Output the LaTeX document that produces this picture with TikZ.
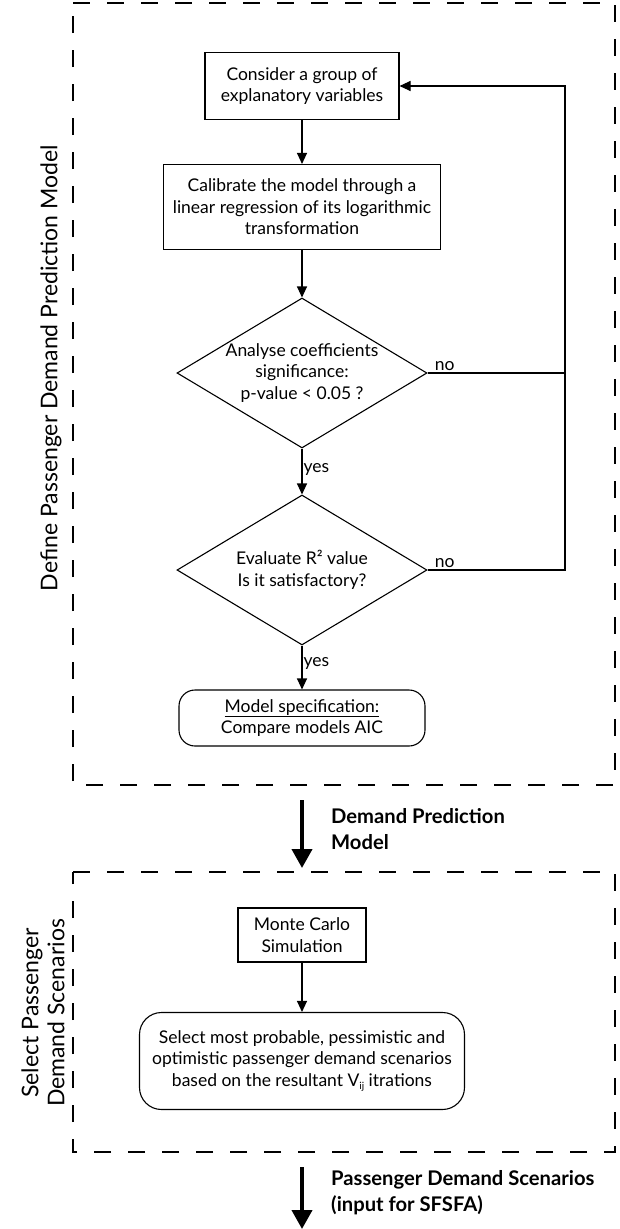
\documentclass[tikz,border=0pt]{standalone}
\usepackage{fontspec}
\setmainfont{Lato}
\usetikzlibrary{shapes.geometric,arrows.meta,calc}
\newcommand{\boxfont}{\fontsize{17.5}{21.5}\selectfont}
\newcommand{\sidefont}{\fontsize{23}{26}\selectfont}
\newcommand{\flowfont}{\fontsize{20.2}{26}\selectfont\bfseries}
\begin{document}
\begin{tikzpicture}[x=1pt,y=-1pt,
  frame/.style={draw, line width=1.2pt, dash pattern=on 17pt off 17pt},
  proc/.style={draw, line width=1.1pt, font=\boxfont, align=center, inner sep=0pt},
  term/.style={proc, rounded corners=16pt},
  dec/.style={draw, line width=1.1pt, shape=diamond, inner sep=0pt,
              minimum width=250pt, minimum height=150pt,
              label={[font=\boxfont, align=center, inner sep=0pt]center:#1}},
  arr/.style={line width=1.1pt, -{Triangle[length=11pt,width=10pt]}},
  lin/.style={line width=1.1pt},
  big/.style={line width=4pt, -{Triangle[length=19pt,width=20pt]}},
  lbl/.style={font=\boxfont, inner sep=1pt},
  side/.style={font=\sidefont, rotate=90, align=center, inner sep=0pt},
  flow/.style={font=\flowfont, align=left, anchor=west, inner sep=0pt}
]
\useasboundingbox (0,0) rectangle (620,1229);
% frames
\draw[frame] (73,3) -- (615,3) -- (615,785) -- (73,785) -- cycle;
\draw[frame] (73,872) -- (615,872) -- (615,1152) -- (73,1152) -- cycle;
% side labels
\node[side] (s1) at (51,368) {Define Passenger Demand Prediction Model};
\node[side] (s2) at (43,1013) {Select Passenger\\Demand Scenarios};
% stage 1
\node[proc, minimum width=194pt, minimum height=67pt] (b1) at (302,86) {Consider a group of\\explanatory variables};
\node[proc, minimum width=277pt, minimum height=85pt] (b2) at (302,207) {Calibrate the model through a\\linear regression of its logarithmic\\transformation};
\node[dec={Analyse coefficients\\significance:\\p-value < 0.05 ?}] (d1) at (302,373) {};
\node[dec={Evaluate R² value\\Is it satisfactory?}] (d2) at (302,570) {};
\node[term, minimum width=246pt, minimum height=56pt] (m) at (302,718) {\underline{Model specification:}\\Compare models AIC};
\coordinate (c2) at (565,570);
\draw[arr] (b1.south) -- (b2.north);
\draw[arr] (b2.south) -- (d1.north);
\draw[arr] (d1.south) -- node[lbl, right, pos=0.45]{yes} (d2.north);
\draw[arr] (d2.south) -- node[lbl, right, pos=0.4]{yes} (m.north);
\draw[arr] (d2.east) -- (c2) |- (b1.east);
\draw[lin] (d1.east) -- (d1.east -| c2);
\node[lbl, anchor=south west] (no1) at ($(d1.east)+(6,-1)$) {no};
\node[lbl, anchor=south west] (no2) at ($(d2.east)+(6,-1)$) {no};
% transition 1
\coordinate (t1a) at (302,800);
\coordinate (t1b) at (302,868);
\draw[big] (t1a) -- (t1b);
\node[flow] (f1) at (331,829) {Demand Prediction\\Model};
% stage 2
\node[proc, minimum width=128pt, minimum height=54pt] (mc) at (302,935) {Monte Carlo\\Simulation};
\node[term, rounded corners=22pt, minimum width=325pt, minimum height=97pt] (sel) at (302,1061) {Select most probable, pessimistic and\\optimistic passenger demand scenarios\\based on the resultant V\raisebox{-0.35ex}{\fontsize{10}{11}\selectfont ij} itrations};
\draw[arr] (mc.south) -- (sel.north);
% transition 2
\coordinate (t2a) at (302,1167);
\coordinate (t2b) at (302,1229);
\draw[big] (t2a) -- (t2b);
\node[flow] (f2) at (331,1193) {Passenger Demand Scenarios\\(input for SFSFA)};
\end{tikzpicture}
\end{document}
